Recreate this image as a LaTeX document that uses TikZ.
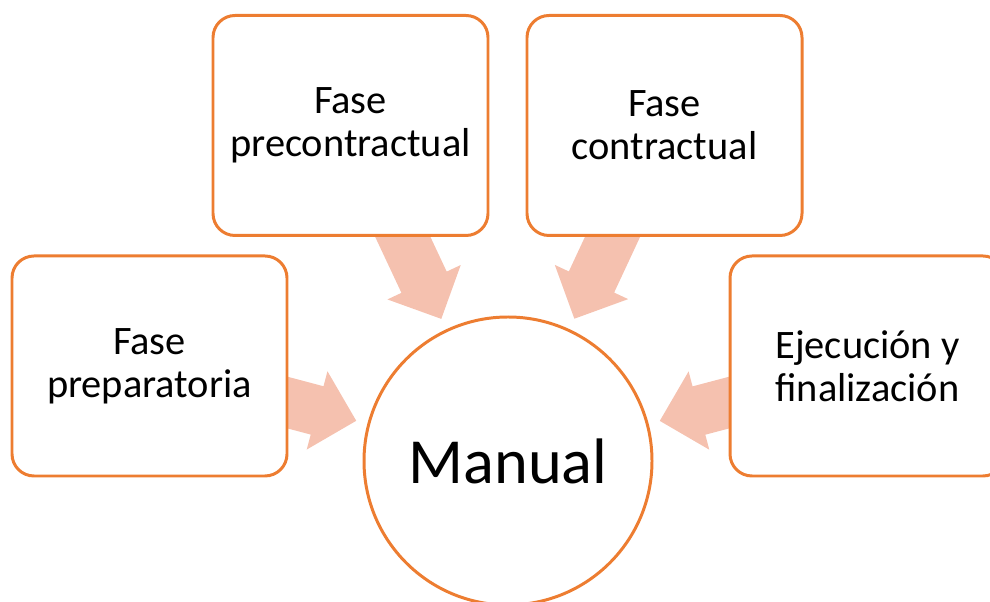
\documentclass[tikz,border=0pt]{standalone}
\usepackage{fontspec}
\setmainfont{Carlito}
\usetikzlibrary{calc,backgrounds}
\definecolor{naranja}{RGB}{237,125,49}
\definecolor{salmon}{RGB}{245,193,175}
\tikzset{
  fase/.style={draw=naranja,line width=1.7pt,fill=white,rounded corners=0.44cm,
    minimum width=5.5cm,minimum height=4.4cm,align=center,
    font=\fontsize{23}{24.5}\selectfont},
  flecha/.style={fill=salmon,draw=none}
}
% arrow with its tip at (0,0), pointing along +x
\newcommand{\formaflecha}{(0,0) -- (-0.81,0.81) -- (-0.81,0.5) -- (-2.4,0.5)
  -- (-2.4,-0.5) -- (-0.81,-0.5) -- (-0.81,-0.81) -- cycle}
\begin{document}
\begin{tikzpicture}
\useasboundingbox (0,0) rectangle (19.8,12.04);
\node [draw=naranja,line width=1.7pt,fill=white,circle,minimum size=5.76cm,
  font=\fontsize{36.6}{44}\selectfont] (manual) at (10.16,2.82) {Manual};
\node [fase] (prep) at (2.99,4.72) {Fase\\preparatoria};
\node [fase] (precon) at (7.01,9.53) {Fase\\precontractual};
\node [fase] (con) at (13.29,9.53) {Fase\\contractual};
\node [fase] (ejec) at (17.35,4.72) {Ejecución y\\finalización};

\begin{scope}[on background layer]
\fill [flecha,shift={($(manual.center)!3.14cm!(prep.center)$)},rotate=-14.84] \formaflecha;
\fill [flecha,shift={($(manual.center)!3.14cm!(precon.center)$)},rotate=-64.85] \formaflecha;
\fill [flecha,shift={($(manual.center)!3.14cm!(con.center)$)},rotate=-115.0] \formaflecha;
\fill [flecha,shift={($(manual.center)!3.14cm!(ejec.center)$)},rotate=-165.2] \formaflecha;
\end{scope}

\end{tikzpicture}
\end{document}
